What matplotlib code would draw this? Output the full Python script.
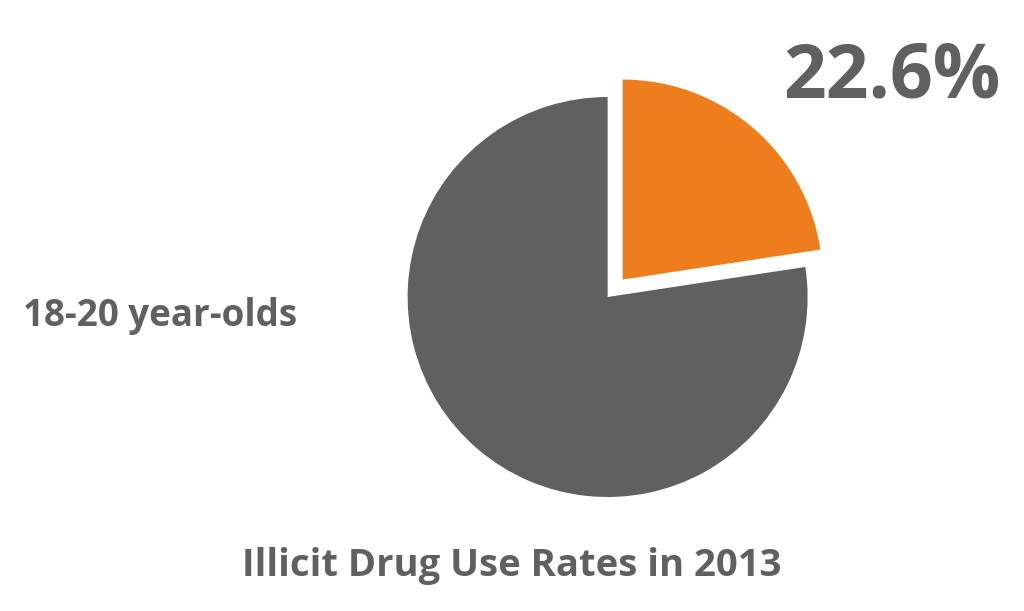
import matplotlib.pyplot as plt

# data
labels = ['18-20 year-olds', 'Other']
values = [22.6, 77.4]
colors = ['#ee7d1e', '#606060']
explode = [0.115, 0]
title = 'Illicit Drug Use Rates in 2013'
big_label = '22.6%'
group_label = '18-20 year-olds'

plt.rcParams['font.family'] = ['Open Sans', 'DejaVu Sans']
txt_color = '#606060'

fig = plt.figure(figsize=(10.24, 6.11), dpi=100)
fig.patch.set_facecolor('white')

# square axes around the pie
ax = fig.add_axes([0.359, 0.1211, 0.46875, 0.7856])
ax.pie(values, colors=colors, explode=explode, startangle=90,
       counterclock=False, radius=1,
       wedgeprops={'linewidth': 0})
ax.set_xlim(-1.2, 1.2)
ax.set_ylim(-1.2, 1.2)
ax.set_aspect('equal')
ax.axis('off')

fig.text(0.977, 0.872, big_label, ha='right', va='center',
         fontsize=54, fontweight='bold', color=txt_color)
fig.text(0.022, 0.482, group_label, ha='left', va='center',
         fontsize=26.5, fontweight='bold', color=txt_color)
fig.text(0.4995, 0.073, title, ha='center', va='center',
         fontsize=27.5, fontweight='bold', color=txt_color)

plt.savefig('out.png', dpi=100)
